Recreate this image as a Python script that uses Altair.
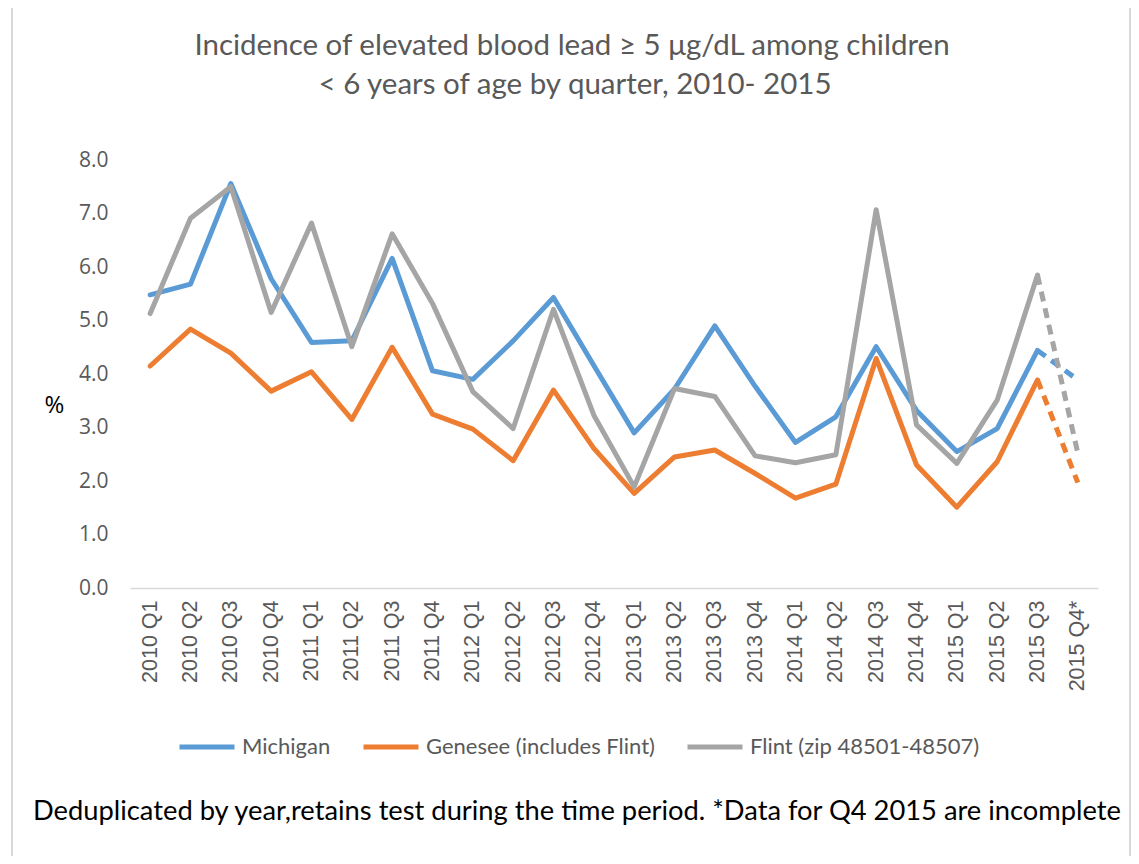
import altair as alt
import pandas as pd

quarters = ["2010 Q1", "2010 Q2", "2010 Q3", "2010 Q4",
            "2011 Q1", "2011 Q2", "2011 Q3", "2011 Q4",
            "2012 Q1", "2012 Q2", "2012 Q3", "2012 Q4",
            "2013 Q1", "2013 Q2", "2013 Q3", "2013 Q4",
            "2014 Q1", "2014 Q2", "2014 Q3", "2014 Q4",
            "2015 Q1", "2015 Q2", "2015 Q3", "2015 Q4*"]

michigan = [5.48, 5.68, 7.56, 5.78, 4.59, 4.62, 6.16, 4.06, 3.90, 4.62, 5.43, 4.16,
            2.90, 3.72, 4.90, 3.77, 2.72, 3.20, 4.51, 3.32, 2.55, 2.98, 4.44, 3.89]
genesee = [4.15, 4.84, 4.39, 3.68, 4.04, 3.15, 4.50, 3.25, 2.97, 2.38, 3.70, 2.61,
           1.77, 2.45, 2.58, 2.14, 1.68, 1.94, 4.29, 2.30, 1.51, 2.36, 3.89, 1.97]
flint = [5.13, 6.91, 7.50, 5.15, 6.82, 4.51, 6.62, 5.32, 3.67, 2.98, 5.21, 3.23,
         1.89, 3.73, 3.58, 2.47, 2.34, 2.49, 7.07, 3.05, 2.33, 3.51, 5.85, 2.52]

series_names = ["Michigan", "Genesee (includes Flint)", "Flint (zip 48501-48507)"]
series_colors = ["#5B9BD5", "#ED7D31", "#A5A5A5"]

title_lines = ["Incidence of elevated blood lead \u2265 5 \u03bcg/dL among children",
               "< 6 years of age by quarter,  2010- 2015"]
footnote = "Deduplicated by year,retains test during the time period. *Data for Q4 2015 are incomplete"

rows = []
for name, vals in zip(series_names, [michigan, genesee, flint]):
    for q, v in zip(quarters, vals):
        rows.append({"quarter": q, "series": name, "value": v})
df = pd.DataFrame(rows)

W, H = 968, 428
PL, PT = 122, 152

x_enc = alt.X("quarter:O", sort=quarters,
              scale=alt.Scale(type="point", padding=0.5),
              axis=alt.Axis(title=None, labelAngle=-90, labelFont="Liberation Sans",
                            labelFontSize=21.5, labelColor="#595959", ticks=False,
                            labelPadding=12, domainColor="#D9D9D9", domainWidth=1.5))
y_enc = alt.Y("value:Q", scale=alt.Scale(domain=[0, 8]),
              axis=alt.Axis(title="%", titleAngle=0, titleX=-76, titleY=245,
                            titleAlign="center", titleBaseline="middle",
                            titleFont="Open Sans", titleFontSize=24, titleFontWeight="normal",
                            titleColor="#000000",
                            values=[0, 1, 2, 3, 4, 5, 6, 7, 8], format=".1f",
                            labelFont="Open Sans", labelFontSize=21, labelColor="#595959",
                            labelPadding=22, ticks=False, domain=False, grid=False))
color_scale = alt.Scale(domain=series_names, range=series_colors)

base = alt.Chart(df)

solid = base.transform_filter(
    alt.FieldOneOfPredicate(field="quarter", oneOf=quarters[:-1])
).mark_line(strokeWidth=5, strokeCap="round", strokeJoin="round").encode(
    x=x_enc, y=y_enc,
    color=alt.Color("series:N", scale=color_scale, sort=series_names,
                    legend=alt.Legend(orient="none", legendX=47, legendY=557,
                                      direction="horizontal", title=None,
                                      symbolType="stroke", symbolSize=3025,
                                      symbolStrokeWidth=5, labelFont="Lato",
                                      labelFontSize=22, labelColor="#595959",
                                      columnPadding=22, labelOffset=5, padding=0,
                                      labelLimit=400)),
    detail="series:N",
)

dashed = base.transform_filter(
    alt.FieldOneOfPredicate(field="quarter", oneOf=quarters[-2:])
).mark_line(strokeWidth=5, strokeCap="butt", strokeDash=[10, 7]).encode(
    x=x_enc, y=y_enc,
    color=alt.Color("series:N", scale=color_scale, legend=None),
    detail="series:N",
)

border = alt.Chart(pd.DataFrame({"b": [1]})).mark_rect(
    fill="transparent", stroke="#D9D9D9", strokeWidth=2
).encode(x=alt.value(12 - 130), x2=alt.value(1130 - 130),
         y=alt.value(4 - 160), y2=alt.value(720))

title1 = alt.Chart(pd.DataFrame({"t": [title_lines[0]]})).mark_text(
    font="Lato", fontSize=29.5, color="#595959", align="center", baseline="middle"
).encode(text="t:N", x=alt.value(572 - 130), y=alt.value(46 - 160))
title2 = alt.Chart(pd.DataFrame({"t": [title_lines[1]]})).mark_text(
    font="Lato", fontSize=29.5, color="#595959", align="center", baseline="middle"
).encode(text="t:N", x=alt.value(575 - 130), y=alt.value(85 - 160))
foot = alt.Chart(pd.DataFrame({"t": [footnote]})).mark_text(
    font="Lato", fontSize=27.3, color="#000000", align="center", baseline="middle"
).encode(text="t:N", x=alt.value(577 - 130), y=alt.value(812 - 160))

chart = alt.layer(border, solid, dashed, title1, title2, foot).properties(
    width=W, height=H,
    autosize=alt.AutoSizeParams(type="none"),
    padding={"left": PL, "top": PT, "right": 33, "bottom": 268},
    background="white",
).configure_view(stroke=None)

chart.save("out.html", embed_options={"renderer": "svg", "actions": False})
